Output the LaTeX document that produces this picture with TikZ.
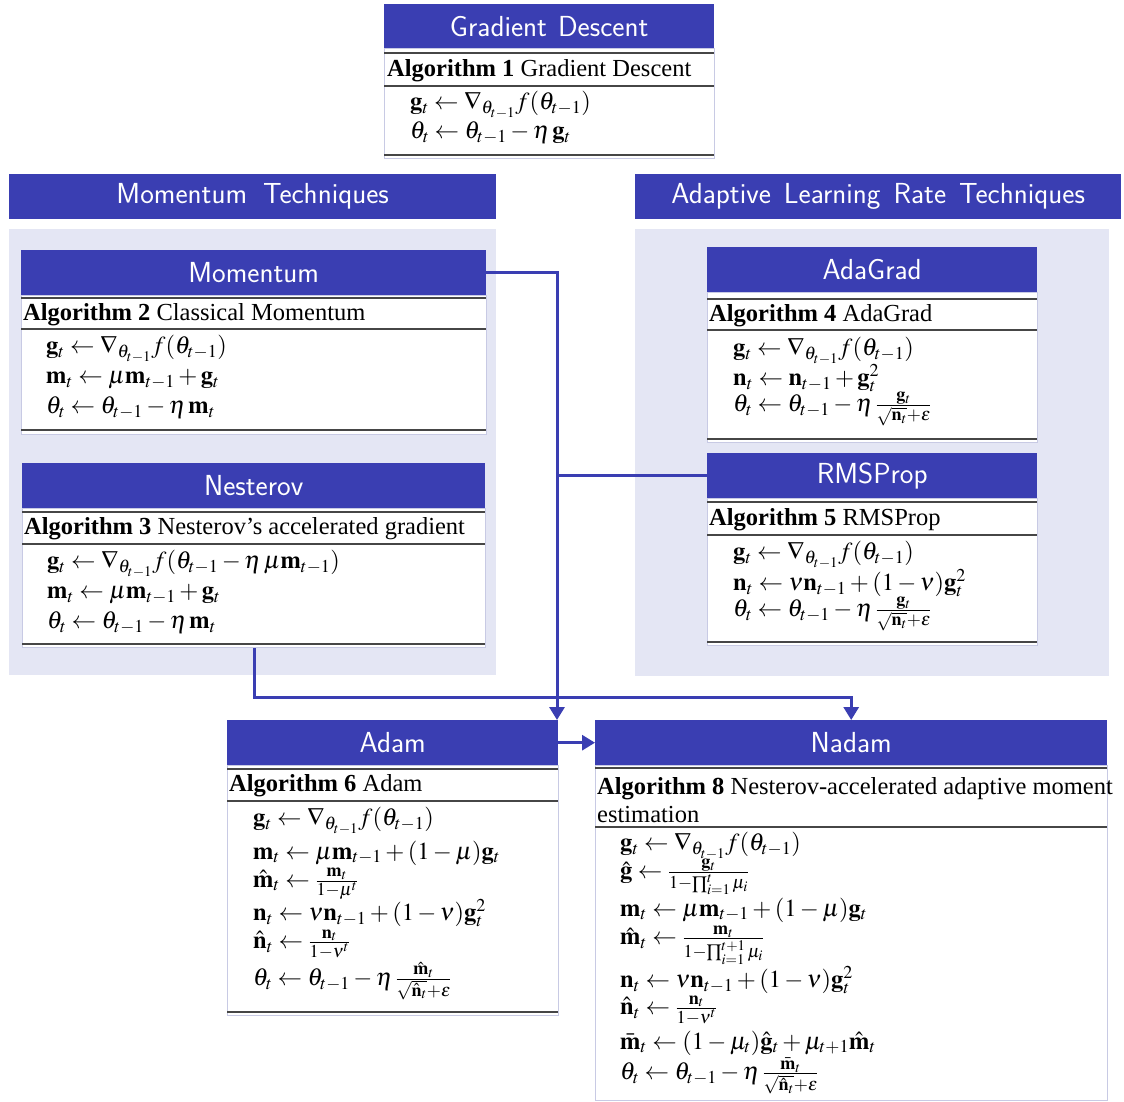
\documentclass[tikz,border=0pt]{standalone}
\usepackage{amsmath}
\usepackage{mathptmx}
\usepackage[no-math]{fontspec}
\setmainfont{Liberation Serif}
\usetikzlibrary{arrows.meta}

\definecolor{hblue}{RGB}{58,62,178}
\definecolor{panelbg}{RGB}{228,230,244}
\definecolor{boxline}{RGB}{200,202,228}
\definecolor{rulecol}{RGB}{70,70,70}

\newcommand\algfont{\fontsize{24.5}{29}\selectfont}
\newcommand\hdrfont{\sffamily\fontsize{29}{34}\selectfont}

\tikzset{
  hdr/.style={fill=hblue,text=white,font=\hdrfont,inner sep=0pt,anchor=north west,minimum height=45},
  groupbg/.style={fill=panelbg,inner sep=0pt,anchor=north west},
  albox/.style={draw=boxline,fill=white,line width=1,inner sep=0pt,anchor=north west},
  toprl/.style={line width=2.6,draw=rulecol},
  midrl/.style={line width=1.5,draw=rulecol},
  captxt/.style={anchor=west,inner sep=0pt,font=\algfont},
  eqline/.style={anchor=west,inner sep=0pt,font=\algfont},
  conn/.style={draw=hblue,line width=3},
  arrowtip/.style={-{Triangle[length=13pt,width=15pt]}}
}

\begin{document}
\begin{tikzpicture}[x=1pt,y=-1pt]
\useasboundingbox (0,0) rectangle (1124,1102);
\fill[white] (0,0) rectangle (1124,1102);

% ---------- Gradient descent ----------
\node[hdr,minimum width=330] (gdh) at (384,4) {Gradient\hspace{11pt}Descent};
\node[albox,minimum width=330,minimum height=110] (gda) at (384,48) {};
\draw[toprl] (384,53) -- (714,53);
\draw[midrl] (384,86) -- (714,86);
\draw[toprl] (384,155) -- (714,155);
\node[captxt] (gdc) at (387,71) {\textbf{Algorithm 1} Gradient Descent};
\node[eqline] (gde1) at (410,105) {$\mathbf{g}_t \leftarrow \nabla_{\theta_{t-1}} f(\theta_{t-1})$};
\node[eqline] (gde2) at (410,133) {$\theta_t \leftarrow \theta_{t-1} - \eta\,\mathbf{g}_t$};

% ---------- group headers and panels ----------
\node[hdr,minimum width=487] (momgrp) at (9,174) {Momentum\hspace{16pt}Techniques};
\node[hdr,minimum width=486] (adagrp) at (635,174) {Adaptive\hspace{13pt}Learning\hspace{13pt}Rate\hspace{13pt}Techniques};
\node[groupbg,minimum width=487,minimum height=446] (leftpanel) at (9,229) {};
\node[groupbg,minimum width=474,minimum height=447] (rightpanel) at (635,229) {};

% ---------- Momentum ----------
\node[hdr,minimum width=465] (momh) at (21,250) {Momentum};
\node[albox,minimum width=465,minimum height=139] (moma) at (21,295) {};
\draw[toprl] (21,298) -- (486,298);
\draw[midrl] (21,329) -- (486,329);
\draw[toprl] (21,430) -- (486,430);
\node[captxt] (momc) at (23,315) {\textbf{Algorithm 2} Classical Momentum};
\node[eqline] (mome1) at (46,349) {$\mathbf{g}_t \leftarrow \nabla_{\theta_{t-1}} f(\theta_{t-1})$};
\node[eqline] (mome2) at (46,379) {$\mathbf{m}_t \leftarrow \mu\mathbf{m}_{t-1} + \mathbf{g}_t$};
\node[eqline] (mome3) at (46,408) {$\theta_t \leftarrow \theta_{t-1} - \eta\,\mathbf{m}_t$};

% ---------- Nesterov ----------
\node[hdr,minimum width=463] (nesh) at (22,463) {Nesterov};
\node[albox,minimum width=463,minimum height=139] (nesa) at (22,508) {};
\draw[toprl] (22,512) -- (485,512);
\draw[midrl] (22,544) -- (485,544);
\draw[toprl] (22,644) -- (485,644);
\node[captxt] (nesc) at (24,529) {\textbf{Algorithm 3} Nesterov’s accelerated gradient};
\node[eqline] (nese1) at (47,564) {$\mathbf{g}_t \leftarrow \nabla_{\theta_{t-1}} f(\theta_{t-1} - \eta\,\mu\mathbf{m}_{t-1})$};
\node[eqline] (nese2) at (47,594) {$\mathbf{m}_t \leftarrow \mu\mathbf{m}_{t-1} + \mathbf{g}_t$};
\node[eqline] (nese3) at (47,623) {$\theta_t \leftarrow \theta_{t-1} - \eta\,\mathbf{m}_t$};

% ---------- AdaGrad ----------
\node[hdr,minimum width=330] (agh) at (707,247) {AdaGrad};
\node[albox,minimum width=330,minimum height=150] (aga) at (707,292) {};
\draw[toprl] (707,299) -- (1037,299);
\draw[midrl] (707,330) -- (1037,330);
\draw[toprl] (707,439) -- (1037,439);
\node[captxt] (agc) at (709,316) {\textbf{Algorithm 4} AdaGrad};
\node[eqline] (age1) at (733,351) {$\mathbf{g}_t \leftarrow \nabla_{\theta_{t-1}} f(\theta_{t-1})$};
\node[eqline] (age2) at (733,378) {$\mathbf{n}_t \leftarrow \mathbf{n}_{t-1} + \mathbf{g}_t^2$};
\node[eqline] (age3) at (733,409) {$\theta_t \leftarrow \theta_{t-1} - \eta\,\frac{\mathbf{g}_t}{\sqrt{\mathbf{n}_t}+\varepsilon}$};

% ---------- RMSProp ----------
\node[hdr,minimum width=330] (rmsh) at (707,453) {RMSProp};
\node[albox,minimum width=330,minimum height=147] (rmsa) at (707,498) {};
\draw[toprl] (707,502) -- (1037,502);
\draw[midrl] (707,535) -- (1037,535);
\draw[toprl] (707,642) -- (1037,642);
\node[captxt] (rmsc) at (709,520) {\textbf{Algorithm 5} RMSProp};
\node[eqline] (rmse1) at (733,555) {$\mathbf{g}_t \leftarrow \nabla_{\theta_{t-1}} f(\theta_{t-1})$};
\node[eqline] (rmse2) at (733,583) {$\mathbf{n}_t \leftarrow \nu\mathbf{n}_{t-1} + (1-\nu)\mathbf{g}_t^2$};
\node[eqline] (rmse3) at (733,614) {$\theta_t \leftarrow \theta_{t-1} - \eta\,\frac{\mathbf{g}_t}{\sqrt{\mathbf{n}_t}+\varepsilon}$};

% ---------- Adam ----------
\node[hdr,minimum width=331] (adamh) at (227,720) {Adam};
\node[albox,minimum width=331,minimum height=250] (adama) at (227,765) {};
\draw[toprl] (227,769) -- (558,769);
\draw[midrl] (227,801) -- (558,801);
\draw[toprl] (227,1012) -- (558,1012);
\node[captxt] (adamc) at (229,786) {\textbf{Algorithm 6} Adam};
\node[eqline] (adame1) at (253,821) {$\mathbf{g}_t \leftarrow \nabla_{\theta_{t-1}} f(\theta_{t-1})$};
\node[eqline] (adame2) at (253,853) {$\mathbf{m}_t \leftarrow \mu\mathbf{m}_{t-1} + (1-\mu)\mathbf{g}_t$};
\node[eqline] (adame3) at (253,884) {$\hat{\mathbf{m}}_t \leftarrow \frac{\mathbf{m}_t}{1-\mu^t}$};
\node[eqline] (adame4) at (253,913) {$\mathbf{n}_t \leftarrow \nu\mathbf{n}_{t-1} + (1-\nu)\mathbf{g}_t^2$};
\node[eqline] (adame5) at (253,944) {$\hat{\mathbf{n}}_t \leftarrow \frac{\mathbf{n}_t}{1-\nu^t}$};
\node[eqline] (adame6) at (253,981) {$\theta_t \leftarrow \theta_{t-1} - \eta\,\frac{\hat{\mathbf{m}}_t}{\sqrt{\hat{\mathbf{n}}_t}+\varepsilon}$};

% ---------- Nadam ----------
\node[hdr,minimum width=512] (nadh) at (595,720) {Nadam};
\node[albox,minimum width=512,minimum height=335] (nada) at (595,765) {};
\draw[toprl] (595,768) -- (1107,768);
\draw[midrl] (595,827) -- (1107,827);
\node[captxt,align=left] (nadc) at (597,800) {\textbf{Algorithm 8} Nesterov-accelerated adaptive moment\\[-1pt]estimation};
\node[eqline] (nade1) at (620,846) {$\mathbf{g}_t \leftarrow \nabla_{\theta_{t-1}} f(\theta_{t-1})$};
\node[eqline] (nade2) at (620,877) {$\hat{\mathbf{g}} \leftarrow \frac{\mathbf{g}_t}{1-\prod_{i=1}^{t}\mu_i}$};
\node[eqline] (nade3) at (620,910) {$\mathbf{m}_t \leftarrow \mu\mathbf{m}_{t-1} + (1-\mu)\mathbf{g}_t$};
\node[eqline] (nade4) at (620,945) {$\hat{\mathbf{m}}_t \leftarrow \frac{\mathbf{m}_t}{1-\prod_{i=1}^{t+1}\mu_i}$};
\node[eqline] (nade5) at (620,980) {$\mathbf{n}_t \leftarrow \nu\mathbf{n}_{t-1} + (1-\nu)\mathbf{g}_t^2$};
\node[eqline] (nade6) at (620,1010) {$\hat{\mathbf{n}}_t \leftarrow \frac{\mathbf{n}_t}{1-\nu^t}$};
\node[eqline] (nade7) at (620,1043) {$\bar{\mathbf{m}}_t \leftarrow (1-\mu_t)\hat{\mathbf{g}}_t + \mu_{t+1}\hat{\mathbf{m}}_t$};
\node[eqline] (nade8) at (620,1076) {$\theta_t \leftarrow \theta_{t-1} - \eta\,\frac{\bar{\mathbf{m}}_t}{\sqrt{\hat{\mathbf{n}}_t}+\varepsilon}$};

% ---------- connectors ----------
\coordinate (trunk) at (557,0);
\coordinate (lane) at (0,697);
\draw[conn,arrowtip] (momh.east) -| (trunk |- adamh.north);
\draw[conn] (rmsh.west) -- (rmsh.west -| trunk);
\draw[conn,arrowtip] (nesa.south) -- (nesa.south |- lane) -| (nadh.north);
\draw[conn,arrowtip] (adamh.east) -- (nadh.west);
\end{tikzpicture}
\end{document}
